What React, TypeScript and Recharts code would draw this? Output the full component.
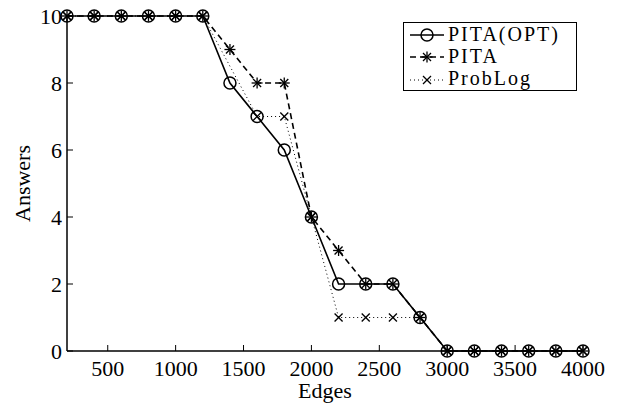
import { LineChart, Line, XAxis, YAxis } from 'recharts';

const edges = [200, 400, 600, 800, 1000, 1200, 1400, 1600, 1800, 2000, 2200, 2400, 2600, 2800, 3000, 3200, 3400, 3600, 3800, 4000];
const pitaOpt = [10, 10, 10, 10, 10, 10, 8, 7, 6, 4, 2, 2, 2, 1, 0, 0, 0, 0, 0, 0];
const pita = [10, 10, 10, 10, 10, 10, 9, 8, 8, 4, 3, 2, 2, 1, 0, 0, 0, 0, 0, 0];
const probLog = [10, 10, 10, 10, 10, 10, null, 7, 7, 4, 1, 1, 1, 1, 0, 0, 0, 0, 0, 0];
const xTicks = [500, 1000, 1500, 2000, 2500, 3000, 3500, 4000];
const yTicks = [0, 2, 4, 6, 8, 10];

const data = edges.map((e, i) => ({ edges: e, pitaOpt: pitaOpt[i], pita: pita[i], probLog: probLog[i] }));

const FONT = '"Liberation Serif", "Times New Roman", serif';

// marker shapes, MATLAB style
function CircleMark({ cx, cy }: any) {
  if (cx == null || cy == null) return <g />;
  return <circle cx={cx} cy={cy} r={6} fill="none" stroke="#000" strokeWidth={1.5} />;
}

function StarMark({ cx, cy }: any) {
  if (cx == null || cy == null) return <g />;
  const s = 5.5;
  const d = 4;
  return (
    <g stroke="#000" strokeWidth={1.3}>
      <line x1={cx - s} y1={cy} x2={cx + s} y2={cy} />
      <line x1={cx} y1={cy - s} x2={cx} y2={cy + s} />
      <line x1={cx - d} y1={cy - d} x2={cx + d} y2={cy + d} />
      <line x1={cx - d} y1={cy + d} x2={cx + d} y2={cy - d} />
    </g>
  );
}

function CrossMark({ cx, cy }: any) {
  if (cx == null || cy == null) return <g />;
  const d = 4;
  return (
    <g stroke="#000" strokeWidth={1.3}>
      <line x1={cx - d} y1={cy - d} x2={cx + d} y2={cy + d} />
      <line x1={cx - d} y1={cy + d} x2={cx + d} y2={cy - d} />
    </g>
  );
}

const series = [
  { key: 'pitaOpt', name: 'PITA(OPT)', dash: undefined, width: 1.6, Mark: CircleMark },
  { key: 'pita', name: 'PITA', dash: '6 4', width: 1.6, Mark: StarMark },
  { key: 'probLog', name: 'ProbLog', dash: '1 3', width: 1, Mark: CrossMark },
];

function LegendBox() {
  return (
    <div
      style={{
        position: 'absolute',
        left: 403,
        top: 22,
        width: 174,
        height: 69,
        boxSizing: 'border-box',
        border: '1px solid #000',
        background: '#fff',
        fontFamily: FONT,
        fontSize: 20,
        lineHeight: '23px',
      }}
    >
      {series.map((s) => (
        <div key={s.key} style={{ display: 'flex', alignItems: 'center', height: 22.3 }}>
          <svg width={44} height={22} style={{ flex: 'none' }}>
            <line x1={6} y1={12} x2={40} y2={12} stroke="#000" strokeWidth={s.width} strokeDasharray={s.dash} />
            <s.Mark cx={23} cy={12} />
          </svg>
          <span style={{ letterSpacing: 2, whiteSpace: 'nowrap' }}>{s.name}</span>
        </div>
      ))}
    </div>
  );
}

export default function App() {
  const tickStyle = { fontFamily: FONT, fontSize: 22, fill: '#000' };
  return (
    <div style={{ position: 'absolute', left: 0, top: 0, width: 617, height: 403, background: '#fff' }}>
      <LineChart width={617} height={403} data={data} margin={{ top: 16, right: 34, bottom: 0, left: 0 }}>
        <XAxis
          dataKey="edges"
          type="number"
          domain={[200, 4000]}
          ticks={xTicks}
          height={52}
          tickSize={-6}
          tickMargin={15}
          tick={tickStyle}
          axisLine={{ stroke: '#000', strokeWidth: 1.5 }}
          tickLine={{ stroke: '#000' }}
          label={{ value: 'Edges', position: 'insideBottom', offset: 5, style: { fontFamily: FONT, fontSize: 22, fill: '#000' } }}
        />
        <XAxis
          xAxisId="top"
          dataKey="edges"
          type="number"
          orientation="top"
          domain={[200, 4000]}
          ticks={xTicks}
          height={0}
          tickSize={-6}
          tick={() => <g />}
          axisLine={{ stroke: '#000', strokeWidth: 1 }}
          tickLine={{ stroke: '#000' }}
        />
        <YAxis
          domain={[0, 10]}
          ticks={yTicks}
          width={67}
          tickSize={-6}
          tickMargin={11}
          tick={tickStyle}
          axisLine={{ stroke: '#000', strokeWidth: 1.5 }}
          tickLine={{ stroke: '#000' }}
          label={{ value: 'Answers', angle: -90, position: 'insideLeft', offset: 22, style: { textAnchor: 'middle', fontFamily: FONT, fontSize: 22, fill: '#000' } }}
        />
        <YAxis
          yAxisId="right"
          orientation="right"
          domain={[0, 10]}
          ticks={yTicks}
          width={0}
          tickSize={-6}
          tick={() => <g />}
          axisLine={{ stroke: '#000', strokeWidth: 1 }}
          tickLine={{ stroke: '#000' }}
        />
        {series.map((s) => (
          <Line
            key={s.key}
            dataKey={s.key}
            name={s.name}
            type="linear"
            stroke="#000"
            strokeWidth={s.width}
            strokeDasharray={s.dash}
            connectNulls
            isAnimationActive={false}
            dot={(p: any) => <s.Mark key={`${s.key}-${p.index}`} cx={p.cx} cy={p.cy} />}
            activeDot={false}
          />
        ))}
      </LineChart>
      <LegendBox />
    </div>
  );
}
